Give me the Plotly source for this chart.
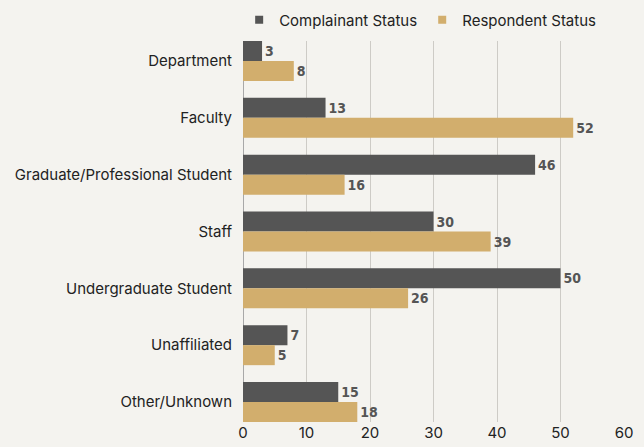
import plotly.graph_objects as go

categories = ["Department", "Faculty", "Graduate/Professional Student", "Staff",
              "Undergraduate Student", "Unaffiliated", "Other/Unknown"]
complainant = [3, 13, 46, 30, 50, 7, 15]
respondent = [8, 52, 16, 39, 26, 5, 18]
x_ticks = [0, 10, 20, 30, 40, 50, 60]
series_names = ["Complainant Status", "Respondent Status"]
series_colors = ["#555555", "#d2ae6d"]

label_font = dict(family="Liberation Sans Narrow, DejaVu Sans Condensed, Roboto Condensed, Roboto",
                  size=14, color="#555555", weight="bold")
tick_font = dict(family="Inter", size=15, color="#222222")

fig = go.Figure()
for name, vals, col in zip(series_names, [complainant, respondent], series_colors):
    fig.add_trace(go.Bar(
        y=categories, x=vals, name=name, orientation="h",
        marker=dict(color=col, line=dict(width=0)), text=vals, textposition="outside",
        textfont=label_font, cliponaxis=False, showlegend=False, hoverinfo="skip"))
# legend entries with small square markers
for name, col in zip(series_names, series_colors):
    fig.add_trace(go.Scatter(
        x=[None], y=[None], mode="markers", name=name,
        marker=dict(symbol="square", size=8, color=col), showlegend=True))

fig.update_layout(
    width=644, height=447,
    paper_bgcolor="#f4f3ef", plot_bgcolor="#f4f3ef",
    barmode="group", bargap=0.296, bargroupgap=0,
    margin=dict(l=243, r=20, t=41, b=25, autoexpand=False),
    font=dict(family="Inter", size=15, color="#222222"),
    legend=dict(orientation="h", x=0.465, xanchor="center", y=0.955, yanchor="middle",
                yref="container", font=dict(family="Inter", size=15, color="#222222"),
                bgcolor="rgba(0,0,0,0)", itemwidth=30),
)
fig.update_xaxes(range=[0, 60], tickvals=x_ticks, showgrid=True, gridcolor="#cdcbc6",
                 gridwidth=1, zeroline=True, zerolinecolor="#a8a8a8", zerolinewidth=1,
                 ticks="", tickfont=tick_font, automargin=False)
fig.update_yaxes(range=[6.352, -0.352], ticks="", ticklabelstandoff=10, showgrid=False,
                 tickfont=tick_font, automargin=False)

fig.write_html("out.html", config={"displayModeBar": False},
               post_script="document.body.style.margin='0';document.body.style.background='#f4f3ef';")
